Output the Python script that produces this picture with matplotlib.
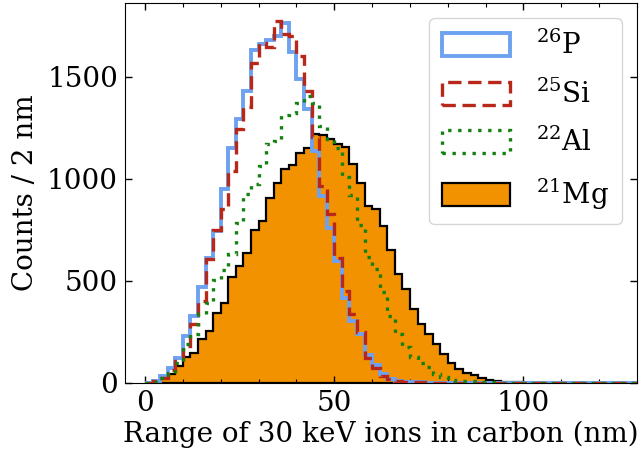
import numpy as np
import matplotlib
matplotlib.use("Agg")
import matplotlib.pyplot as plt
import matplotlib.ticker as ticker

plt.rcParams["font.family"] = ["DejaVu Serif"]
plt.rcParams["mathtext.fontset"] = "dejavuserif"

# 2 nm bins from 0 to 130 nm
bin_edges = np.arange(0, 132, 2)

counts_p26 = [
    2, 10, 34, 75, 124, 230, 328, 471, 611, 745,
    953, 1153, 1292, 1431, 1631, 1663, 1680, 1701, 1766, 1623,
    1489, 1341, 1137, 917, 761, 598, 418, 304, 239, 137,
    90, 44, 20, 12, 7, 4, 3, 2, 1, 1,
    1, 0, 1, 0, 0, 1, 0, 0, 0, 0,
    0, 0, 0, 0, 0, 0, 0, 0, 0, 0,
    0, 0, 0, 0, 0,
]
counts_si25 = [
    1, 10, 26, 62, 108, 181, 288, 402, 606, 750,
    851, 1039, 1243, 1350, 1570, 1668, 1644, 1775, 1712, 1700,
    1603, 1431, 1203, 966, 827, 614, 451, 340, 250, 124,
    75, 34, 18, 10, 6, 4, 3, 2, 1, 1,
    0, 1, 0, 0, 1, 0, 0, 0, 0, 0,
    0, 0, 0, 0, 0, 0, 0, 0, 0, 0,
    0, 0, 0, 0, 0,
]
counts_al22 = [
    1, 6, 26, 51, 100, 190, 242, 337, 394, 505,
    552, 631, 786, 925, 977, 1064, 1170, 1186, 1312, 1325,
    1372, 1407, 1374, 1260, 1195, 1153, 1010, 922, 775, 618,
    557, 448, 328, 242, 175, 125, 100, 78, 42, 28,
    15, 12, 10, 8, 6, 4, 3, 2, 2, 1,
    1, 1, 0, 1, 0, 0, 0, 0, 0, 0,
    0, 0, 0, 0, 0,
]
counts_mg21 = [
    1, 8, 23, 42, 83, 127, 149, 214, 255, 345,
    390, 520, 574, 639, 748, 794, 908, 982, 1047, 1066,
    1129, 1153, 1218, 1215, 1195, 1173, 1157, 1073, 982, 868,
    851, 770, 650, 536, 459, 361, 291, 239, 193, 141,
    100, 67, 51, 39, 26, 16, 11, 6, 4, 3,
    2, 2, 1, 1, 1, 0, 1, 0, 0, 0,
    0, 0, 0, 0, 0,
]

fig = plt.figure(figsize=(6.43, 4.63), dpi=100)
ax = fig.add_axes([0.1944, 0.1728, 0.7963, 0.8207])

centers = bin_edges[:-1] + 1

ax.hist(centers, bins=bin_edges, weights=counts_mg21, histtype="stepfilled",
        facecolor="#f39200", edgecolor="black", linewidth=1.6, label=r"$^{21}$Mg", zorder=1)
ax.hist(centers, bins=bin_edges, weights=counts_p26, histtype="step",
        color="#6ea2f0", linewidth=2.8, label=r"$^{26}$P", zorder=2)
ax.hist(centers, bins=bin_edges, weights=counts_si25, histtype="step",
        color="#b8281a", linewidth=2.4, linestyle=(0, (4, 2)), label=r"$^{25}$Si", zorder=3)
ax.hist(centers, bins=bin_edges, weights=counts_al22, histtype="step",
        color="#13800f", linewidth=2.4, linestyle=(0, (1, 2)), label=r"$^{22}$Al", zorder=4)

ax.set_xlim(-5.3, 130)
ax.set_ylim(0, 1862)

ax.xaxis.set_major_locator(ticker.MultipleLocator(50))
ax.xaxis.set_minor_locator(ticker.MultipleLocator(10))
ax.yaxis.set_major_locator(ticker.MultipleLocator(500))
ax.tick_params(which="both", direction="in", top=True, right=True, labelsize=20)
ax.tick_params(which="major", length=5, width=1, pad=5)
ax.tick_params(which="minor", length=3, width=0.8)

ax.set_xlabel("Range of 30 keV ions in carbon (nm)", fontsize=20, labelpad=3)
ax.set_ylabel("Counts / 2 nm", fontsize=20, labelpad=6)

handles, labels = ax.get_legend_handles_labels()
order = [1, 2, 3, 0]
ax.legend([handles[i] for i in order], [labels[i] for i in order],
          loc="upper right", fontsize=20, handlelength=2.45, handleheight=0.9,
          labelspacing=0.7, borderaxespad=0.55, handletextpad=0.95, borderpad=0.45)

fig.savefig("out.png", dpi=100)
